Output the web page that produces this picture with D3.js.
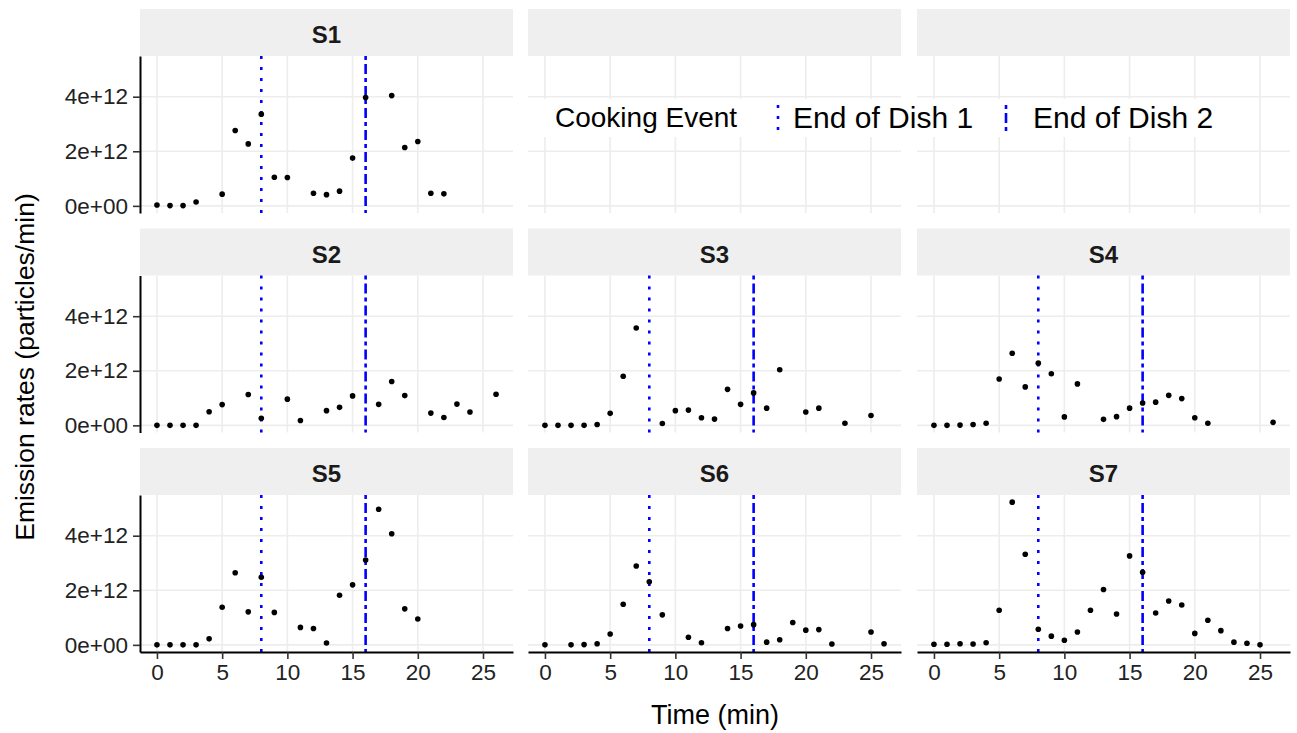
<!DOCTYPE html>
<html>
<head>
<meta charset="utf-8">
<script src="https://cdn.jsdelivr.net/npm/d3@7"></script>
<style>
  body { margin: 0; background: #fff; }
  svg { display: block; font-family: "Liberation Sans", Arial, Helvetica, sans-serif; }
</style>
</head>
<body>
<svg id="chart" width="1297" height="733"></svg>
<script>
// emission rates (particles/min), time in minutes
const s1Time = [0, 1, 2, 3, 5, 6, 7, 8, 9, 10, 12, 13, 14, 15, 16, 18, 19, 20, 21, 22];
const s1Rate = [0.03e12, 0.01e12, 0.01e12, 0.14e12, 0.43e12, 2.76e12, 2.27e12, 3.36e12, 1.05e12, 1.04e12,
  0.46e12, 0.41e12, 0.54e12, 1.75e12, 3.97e12, 4.04e12, 2.14e12, 2.36e12, 0.46e12, 0.44e12];

const s2Time = [0, 1, 2, 3, 4, 5, 7, 8, 10, 11, 13, 14, 15, 17, 18, 19, 21, 22, 23, 24, 26];
const s2Rate = [0, 0, 0, 0, 0.50e12, 0.76e12, 1.13e12, 0.26e12, 0.96e12, 0.18e12, 0.54e12,
  0.66e12, 1.08e12, 0.77e12, 1.61e12, 1.09e12, 0.45e12, 0.29e12, 0.78e12, 0.49e12, 1.14e12];

const s3Time = [0, 1, 2, 3, 4, 5, 6, 7, 9, 10, 11, 12, 13, 14, 15, 16, 17, 18, 20, 21, 23, 25];
const s3Rate = [0, 0, 0, 0, 0.03e12, 0.44e12, 1.80e12, 3.57e12, 0.07e12, 0.54e12, 0.56e12,
  0.28e12, 0.23e12, 1.32e12, 0.77e12, 1.19e12, 0.63e12, 2.04e12, 0.49e12, 0.63e12, 0.08e12, 0.36e12];

const s4Time = [0, 1, 2, 3, 4, 5, 6, 7, 8, 9, 10, 11, 13, 14, 15, 16, 17, 18, 19, 20, 21, 26];
const s4Rate = [0, 0, 0.01e12, 0.03e12, 0.08e12, 1.70e12, 2.64e12, 1.41e12, 2.28e12, 1.89e12, 0.31e12,
  1.52e12, 0.22e12, 0.32e12, 0.63e12, 0.82e12, 0.85e12, 1.10e12, 0.98e12, 0.28e12, 0.08e12, 0.11e12];

const s5Time = [0, 1, 2, 3, 4, 5, 6, 7, 8, 9, 11, 12, 13, 14, 15, 16, 17, 18, 19, 20];
const s5Rate = [0, 0, 0, 0, 0.22e12, 1.38e12, 2.64e12, 1.21e12, 2.48e12, 1.19e12, 0.64e12,
  0.60e12, 0.07e12, 1.82e12, 2.20e12, 3.11e12, 4.97e12, 4.07e12, 1.32e12, 0.95e12];

const s6Time = [0, 2, 3, 4, 5, 6, 7, 8, 9, 11, 12, 14, 15, 16, 17, 18, 19, 20, 21, 22, 25, 26];
const s6Rate = [0, 0, 0.01e12, 0.04e12, 0.40e12, 1.49e12, 2.89e12, 2.31e12, 1.10e12, 0.28e12, 0.08e12,
  0.60e12, 0.69e12, 0.74e12, 0.10e12, 0.19e12, 0.82e12, 0.54e12, 0.56e12, 0.03e12, 0.47e12, 0.04e12];

const s7Time = [0, 1, 2, 3, 4, 5, 6, 7, 8, 9, 10, 11, 12, 13, 14, 15, 16, 17, 18, 19, 20, 21, 22, 23, 24, 25];
const s7Rate = [0.02e12, 0.02e12, 0.04e12, 0.03e12, 0.08e12, 1.27e12, 5.23e12, 3.32e12, 0.57e12, 0.32e12,
  0.17e12, 0.47e12, 1.27e12, 2.03e12, 1.13e12, 3.26e12, 2.66e12, 1.17e12, 1.61e12, 1.46e12,
  0.42e12, 0.90e12, 0.52e12, 0.10e12, 0.06e12, 0.00e12];

const xTicks = [0, 5, 10, 15, 20, 25];
const yTicks = [0, 2e12, 4e12];
const dish1End = 8;
const dish2End = 16;
const legendTitle = "Cooking Event";
const legendLabels = ["End of Dish 1", "End of Dish 2"];

const svg = d3.select("#chart");
svg.append("rect").attr("width", 1297).attr("height", 733).attr("fill", "#fff");

const colLeft = [140, 528, 917];
const panelW = 373;
const rowTop = [56, 275.5, 495];
const panelH = 157;
const stripH = 47;

const grid = [
  ["S1", s1Time, s1Rate], null, null,
  ["S2", s2Time, s2Rate], ["S3", s3Time, s3Rate], ["S4", s4Time, s4Rate],
  ["S5", s5Time, s5Rate], ["S6", s6Time, s6Rate], ["S7", s7Time, s7Rate]
];

const yMax = d3.max([s1Rate, s2Rate, s3Rate, s4Rate, s5Rate, s6Rate, s7Rate].flat());
const yPad = yMax * 0.05;
const fmtSci = v => {
  if (v === 0) return "0e+00";
  const [m, e] = d3.format(".0e")(v).split("e");
  const sign = e[0];
  const digits = e.slice(1).padStart(2, "0");
  return m + "e" + sign + digits;
};

const dotted = "3,8";
const dotdash = "4,4,10,4";

grid.forEach((cell, i) => {
  const r = Math.floor(i / 3), c = i % 3;
  const left = colLeft[c], top = rowTop[r];
  const x = d3.scaleLinear().domain([-1.3, 27.3]).range([left, left + panelW]);
  const y = d3.scaleLinear().domain([-yPad, yMax + yPad]).range([top + panelH, top]);

  const g = svg.append("g");

  // strip
  g.append("rect")
    .attr("x", left).attr("y", top - stripH)
    .attr("width", panelW).attr("height", stripH)
    .attr("fill", "#efefef");
  if (cell) {
    g.append("text")
      .attr("x", left + panelW / 2).attr("y", top - stripH + 34)
      .attr("text-anchor", "middle")
      .attr("font-size", 24).attr("font-weight", "bold")
      .attr("fill", "#1a1a1a")
      .text(cell[0]);
  }

  // grid lines
  g.selectAll(".vg").data(xTicks).enter().append("line")
    .attr("x1", d => x(d)).attr("x2", d => x(d))
    .attr("y1", top).attr("y2", top + panelH)
    .attr("stroke", "#ededed").attr("stroke-width", 1.6);
  g.selectAll(".hg").data(yTicks).enter().append("line")
    .attr("x1", left).attr("x2", left + panelW)
    .attr("y1", d => y(d)).attr("y2", d => y(d))
    .attr("stroke", "#ededed").attr("stroke-width", 1.6);

  if (cell) {
    // event lines
    g.append("line")
      .attr("x1", x(dish1End)).attr("x2", x(dish1End))
      .attr("y1", top).attr("y2", top + panelH)
      .attr("stroke", "#0000ff").attr("stroke-width", 2.6)
      .attr("stroke-dasharray", dotted);
    g.append("line")
      .attr("x1", x(dish2End)).attr("x2", x(dish2End))
      .attr("y1", top).attr("y2", top + panelH)
      .attr("stroke", "#0000ff").attr("stroke-width", 2.6)
      .attr("stroke-dasharray", dotdash);

    const pts = cell[1].map((t, k) => ({ t: t, v: cell[2][k] }));
    g.selectAll(".pt").data(pts).enter().append("circle")
      .attr("cx", d => x(d.t)).attr("cy", d => y(d.v))
      .attr("r", 2.8).attr("fill", "#000");
  }

  // y axis on first column
  if (c === 0) {
    const ax = g.append("g")
      .attr("transform", `translate(${left},0)`)
      .call(d3.axisLeft(y).tickValues(yTicks).tickFormat(fmtSci)
        .tickSize(7).tickSizeOuter(0).tickPadding(5));
    ax.select(".domain").attr("stroke", "#000").attr("stroke-width", 2);
    ax.selectAll(".tick line").attr("stroke", "#333").attr("stroke-width", 1.6);
    ax.selectAll(".tick text").attr("font-size", 22.5).attr("fill", "#222")
      .attr("font-family", "Liberation Sans, Arial, sans-serif");
  }
  // x axis on bottom row
  if (r === 2) {
    const ax = g.append("g")
      .attr("transform", `translate(0,${top + panelH})`)
      .call(d3.axisBottom(x).tickValues(xTicks)
        .tickSize(7).tickSizeOuter(0).tickPadding(5));
    ax.select(".domain").attr("stroke", "#000").attr("stroke-width", 2);
    ax.selectAll(".tick line").attr("stroke", "#333").attr("stroke-width", 1.6);
    ax.selectAll(".tick text").attr("font-size", 22.5).attr("fill", "#222")
      .attr("font-family", "Liberation Sans, Arial, sans-serif");
  }
});

// axis titles
svg.append("text")
  .attr("x", 715).attr("y", 724)
  .attr("text-anchor", "middle").attr("font-size", 27)
  .attr("fill", "#000")
  .text("Time (min)");
svg.append("text")
  .attr("transform", "translate(34,367) rotate(-90)")
  .attr("text-anchor", "middle").attr("font-size", 26.5)
  .attr("fill", "#000")
  .text("Emission rates (particles/min)");

// legend placed in the empty top-right area
const lg = svg.append("g");
lg.append("rect")
  .attr("x", 540).attr("y", 99).attr("width", 705).attr("height", 38)
  .attr("fill", "#fff");
lg.append("text")
  .attr("x", 555).attr("y", 127)
  .attr("font-size", 28).attr("fill", "#000")
  .text(legendTitle);
const keyX = [778, 1006];
const labelX = [793, 1033];
const keyDash = [dotted, dotdash];
legendLabels.forEach((lab, k) => {
  lg.append("line")
    .attr("x1", keyX[k]).attr("x2", keyX[k])
    .attr("y1", 105).attr("y2", 131)
    .attr("stroke", "#0000ff").attr("stroke-width", 2.6)
    .attr("stroke-dasharray", keyDash[k]);
  lg.append("text")
    .attr("x", labelX[k]).attr("y", 128)
    .attr("font-size", 30).attr("fill", "#000")
    .text(lab);
});
</script>
</body>
</html>
